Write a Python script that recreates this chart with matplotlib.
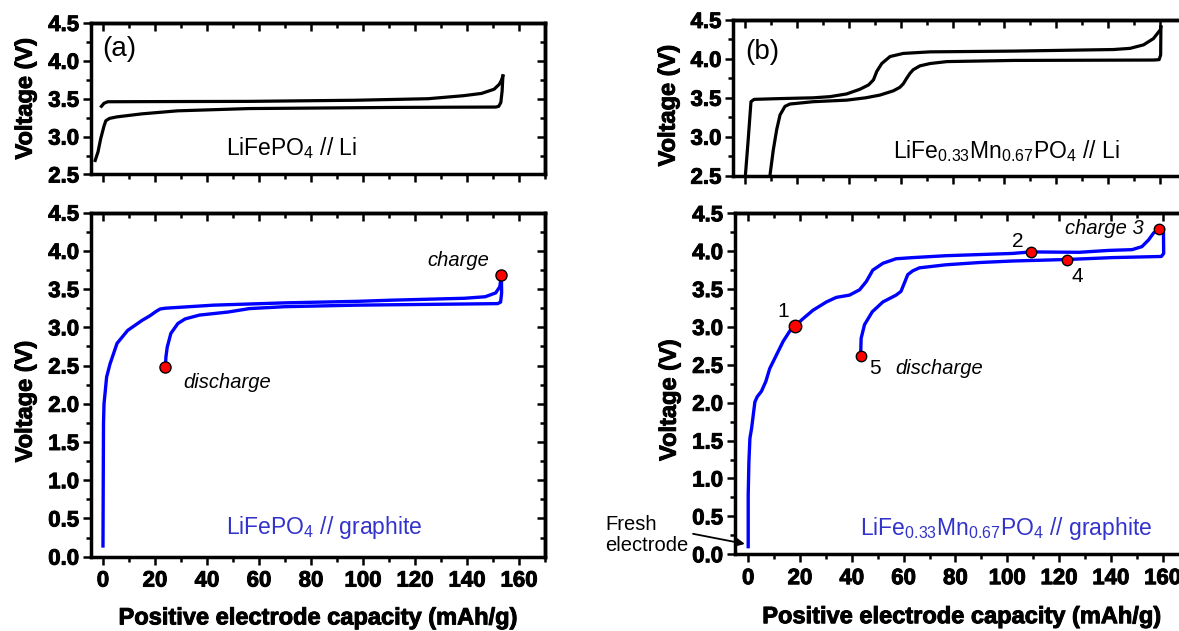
import numpy as np
import matplotlib.pyplot as plt
import matplotlib.patheffects as pe
from matplotlib.ticker import MultipleLocator

plt.rcParams['font.family'] = ['Liberation Sans', 'DejaVu Sans']
plt.rcParams['font.weight'] = 'bold'
plt.rcParams['mathtext.fontset'] = 'custom'
plt.rcParams['mathtext.rm'] = 'Liberation Sans'
plt.rcParams['mathtext.it'] = 'Liberation Sans:italic'
plt.rcParams['mathtext.bf'] = 'Liberation Sans:bold'

# (a) LiFePO4 // Li  (black)
lfp_li_charge_x = [-0.5, 0.5, 1.9, 20, 56.2, 97.5, 125, 138.7, 145.6, 150.4, 152.4, 153.2, 153.8]
lfp_li_charge_v = [3.40, 3.44, 3.46, 3.462, 3.465, 3.48, 3.50, 3.54, 3.57, 3.625, 3.69, 3.74, 3.80]
lfp_li_dis_x = [153.8, 153.5, 153.0, 152.2, 151.1, 111.2, 56.2, 28.7, 15.0, 5.4, 2.6, 1.2, 0.5, -0.8, -1.8, -2.9]
lfp_li_dis_v = [3.80, 3.60, 3.45, 3.40, 3.39, 3.385, 3.37, 3.34, 3.30, 3.26, 3.24, 3.21, 3.14, 2.97, 2.80, 2.685]

# (a) LiFePO4 // graphite  (blue)
lfp_gr_charge_x = [0, 0.1, 0.2, 0.4, 1.4, 2.7, 5.4, 9.5, 15.0, 18.0, 20.5, 22.0, 24.0, 42.5, 70, 98, 111, 139, 147, 151, 152.6, 153.2]
lfp_gr_charge_v = [0.14, 1.0, 1.74, 2.0, 2.35, 2.52, 2.79, 2.96, 3.09, 3.15, 3.21, 3.24, 3.25, 3.29, 3.32, 3.34, 3.355, 3.38, 3.40, 3.45, 3.53, 3.685]
lfp_gr_dis_x = [153.2, 153.3, 152.9, 151.8, 139, 125, 97.5, 70, 56.3, 48.1, 37.1, 31.6, 28.8, 26.1, 24.7, 24.2, 24.0]
lfp_gr_dis_v = [3.685, 3.45, 3.33, 3.31, 3.305, 3.30, 3.29, 3.27, 3.245, 3.20, 3.16, 3.11, 3.05, 2.92, 2.74, 2.61, 2.48]
lfp_gr_pts_x = [153.2, 24.0]
lfp_gr_pts_v = [3.685, 2.48]

# (b) LiFe0.33Mn0.67PO4 // Li  (black)
lfmp_li_charge_x = [-0.1, 1.2, 2.3, 3.5, 13.5, 26.3, 32.8, 39.2, 44.3, 47.6, 49.5, 50.8, 52.7, 55.9, 61.0, 71.3, 103.5, 142, 148.4, 153.6, 157.4, 160.0, 160.3]
lfmp_li_charge_v = [2.4, 2.95, 3.45, 3.48, 3.49, 3.50, 3.515, 3.55, 3.61, 3.665, 3.73, 3.84, 3.94, 4.03, 4.07, 4.09, 4.10, 4.12, 4.135, 4.18, 4.26, 4.37, 4.41]
lfmp_li_dis_x = [160.3, 160.2, 159.6, 157.4, 103.5, 77.8, 71.3, 67.4, 64.8, 63.6, 62.3, 61.0, 59.7, 57.2, 52.0, 46.5, 39.2, 26.3, 17.3, 15.4, 13.5, 12.2, 10.9, 9.6, 9.3]
lfmp_li_dis_v = [4.41, 4.05, 3.99, 3.985, 3.98, 3.965, 3.94, 3.91, 3.86, 3.815, 3.75, 3.68, 3.635, 3.59, 3.535, 3.50, 3.47, 3.45, 3.42, 3.39, 3.28, 3.09, 2.83, 2.50, 2.4]

# (b) LiFe0.33Mn0.67PO4 // graphite  (blue)
lfmp_gr_charge_x = [0, 0, 0.27, 0.66, 1.3, 2.58, 3.5, 5.1, 6.8, 8.3, 10.9, 13.5, 16.7, 18.0, 21.2, 25.0, 30.2, 34.0, 39.1, 43.0,
                    45.6, 48.1, 52.0, 57.1, 63.5, 76.3, 102.0, 109.0, 127.7, 139.2, 148.2, 152.0, 154.6, 156.5, 158.6, 160.3]
lfmp_gr_charge_v = [0.10, 0.78, 1.22, 1.53, 1.66, 2.01, 2.08, 2.15, 2.28, 2.45, 2.63, 2.81, 2.98, 3.01, 3.11, 3.22, 3.33, 3.39, 3.42, 3.49,
                    3.60, 3.75, 3.84, 3.90, 3.915, 3.94, 3.97, 3.99, 3.985, 4.01, 4.02, 4.06, 4.15, 4.24, 4.29, 4.30]
lfmp_gr_dis_x = [160.3, 160.4, 159.5, 140.5, 122.9, 102.0, 89.2, 76.3, 66.1, 63.5, 61.6, 60.3, 59.0, 57.1, 52.0, 47.9, 44.9, 43.6, 43.4]
lfmp_gr_dis_v = [4.30, 3.97, 3.93, 3.915, 3.89, 3.87, 3.85, 3.82, 3.78, 3.74, 3.69, 3.58, 3.47, 3.42, 3.33, 3.20, 3.03, 2.85, 2.62]
lfmp_gr_pts_x = [18.0, 109.0, 158.6, 122.9, 43.4]
lfmp_gr_pts_v = [3.01, 3.99, 4.29, 3.89, 2.62]

BLUE = '#0000ff'
TXTBLUE = '#3333cc'
HEAVY = [pe.withStroke(linewidth=0.7, foreground='black')]

fig = plt.figure(figsize=(11.79, 6.31), dpi=100)


def frame(ax, xlim, ylim, xlabels, right_ticks=True):
    ax.set_xlim(*xlim)
    ax.set_ylim(*ylim)
    for s in ax.spines.values():
        s.set_linewidth(2.5)
    ax.xaxis.set_major_locator(MultipleLocator(20))
    ax.xaxis.set_minor_locator(MultipleLocator(10))
    ax.yaxis.set_major_locator(MultipleLocator(0.5))
    ax.yaxis.set_minor_locator(MultipleLocator(0.25))
    ax.yaxis.set_major_formatter('{x:.1f}')
    ax.tick_params(which='major', direction='out', length=6, width=1.8, labelsize=16, pad=2.5)
    ax.tick_params(which='minor', direction='out', length=3.5, width=1.8)
    ax.tick_params(axis='x', labelbottom=xlabels, pad=4)
    for lab in ax.get_xticklabels() + ax.get_yticklabels():
        lab.set_path_effects(HEAVY)
    top = ax.secondary_xaxis('top')
    top.xaxis.set_major_locator(MultipleLocator(20))
    top.xaxis.set_minor_locator(MultipleLocator(10))
    top.tick_params(which='major', direction='in', length=6, width=1.8, labeltop=False)
    top.tick_params(which='minor', direction='in', length=3.5, width=1.8)
    top.spines['top'].set_linewidth(2.5)
    if right_ticks:
        right = ax.secondary_yaxis('right')
        right.yaxis.set_major_locator(MultipleLocator(0.5))
        right.yaxis.set_minor_locator(MultipleLocator(0.25))
        right.tick_params(which='major', direction='in', length=6, width=1.8, labelright=False)
        right.tick_params(which='minor', direction='in', length=3.5, width=1.8)
        right.spines['right'].set_linewidth(2.5)


def ylab(ax, x, y):
    ax.set_ylabel('Voltage (V)', fontsize=17, fontweight='bold', va='center', path_effects=HEAVY)
    ax.yaxis.set_label_coords(x, y)


def xlab(ax, y):
    ax.set_xlabel('Positive electrode capacity (mAh/g)', fontsize=17, fontweight='bold', va='center',
                  path_effects=HEAVY)
    ax.xaxis.set_label_coords(0.5, y)


# ---- (a) top
ax1 = fig.add_axes([0.0772, 0.7235, 0.3851, 0.2401])
frame(ax1, (-4.5, 170), (2.5, 4.5), False)
ax1.plot(lfp_li_charge_x, lfp_li_charge_v, color='black', lw=2.3)
ax1.plot(lfp_li_dis_x, lfp_li_dis_v, color='black', lw=2.3)
ax1.text(0, 4.15, '(a)', fontsize=20, fontweight='normal', ha='left', va='center')
ax1.text(47.4, 2.75, r'LiFePO$_\mathregular{4}$ // Li', fontsize=16.5, fontweight='normal',
         ha='left', va='baseline')
ylab(ax1, -0.145, 0.5)

# ---- (a) bottom
ax2 = fig.add_axes([0.0772, 0.1178, 0.3851, 0.5452])
frame(ax2, (-4.6, 170), (0, 4.5), True)
ax2.plot(lfp_gr_charge_x, lfp_gr_charge_v, color=BLUE, lw=2.4)
ax2.plot(lfp_gr_dis_x, lfp_gr_dis_v, color=BLUE, lw=2.4)
ax2.plot(lfp_gr_pts_x, lfp_gr_pts_v, 'o', color='red', mec='black', mew=1, ms=8, zorder=5)
ax2.text(148.7, 3.88, 'charge', fontsize=14.5, fontstyle='italic', fontweight='normal', ha='right', va='center')
ax2.text(30.9, 2.28, 'discharge', fontsize=14.5, fontstyle='italic', fontweight='normal', ha='left', va='center')
ax2.text(47.4, 0.29, r'LiFePO$_\mathregular{4}$ // graphite', fontsize=16.5, fontweight='normal',
         color=TXTBLUE, ha='left', va='baseline')
ylab(ax2, -0.145, 0.451)
xlab(ax2, -0.178)

# ---- (b) top
ax3 = fig.add_axes([0.622, 0.7216, 0.384, 0.2468])
frame(ax3, (-4.5, 170), (2.5, 4.5), False, right_ticks=False)
ax3.plot(lfmp_li_charge_x, lfmp_li_charge_v, color='black', lw=2.3)
ax3.plot(lfmp_li_dis_x, lfmp_li_dis_v, color='black', lw=2.3)
ax3.text(0, 4.09, '(b)', fontsize=20, fontweight='normal', ha='left', va='center')
ax3.text(57.2, 2.72, r'LiFe$_\mathregular{0.33}$Mn$_\mathregular{0.67}$PO$_\mathregular{4}$ // Li',
         fontsize=16.5, fontweight='normal', ha='left', va='baseline')
ylab(ax3, -0.144, 0.45)

# ---- (b) bottom
ax4 = fig.add_axes([0.6234, 0.1216, 0.3847, 0.5404])
frame(ax4, (-5.1, 170), (0, 4.5), True, right_ticks=False)
ax4.plot(lfmp_gr_charge_x, lfmp_gr_charge_v, color=BLUE, lw=2.4)
ax4.plot(lfmp_gr_dis_x, lfmp_gr_dis_v, color=BLUE, lw=2.4)
sizes = [9, 7.5, 7.5, 7.5, 7.5]
for px, pv, s in zip(lfmp_gr_pts_x, lfmp_gr_pts_v, sizes):
    ax4.plot(px, pv, 'o', color='red', mec='black', mew=1, ms=s, zorder=5)
ax4.text(13.7, 3.20, '1', fontsize=15, fontweight='normal', ha='center', va='center')
ax4.text(103.9, 4.13, '2', fontsize=15, fontweight='normal', ha='center', va='center')
ax4.text(152.7, 4.30, 'charge 3', fontsize=14.5, fontstyle='italic', fontweight='normal', ha='right', va='center')
ax4.text(127.0, 3.66, '4', fontsize=15, fontweight='normal', ha='center', va='center')
ax4.text(48.8, 2.45, '5', fontsize=15, fontweight='normal', ha='center', va='center')
ax4.text(56.9, 2.45, 'discharge', fontsize=14.5, fontstyle='italic', fontweight='normal', ha='left', va='center')
ax4.text(43.0, 0.26, r'LiFe$_\mathregular{0.33}$Mn$_\mathregular{0.67}$PO$_\mathregular{4}$ // graphite',
         fontsize=16.5, fontweight='normal', color=TXTBLUE, ha='left', va='baseline')
ax4.text(-55.2, 0.255, 'Fresh\nelectrode', fontsize=14.5, fontweight='normal', ha='left', va='center',
         linespacing=1.1, clip_on=False)
ax4.annotate('', xy=(-1.3, 0.137), xytext=(-21.3, 0.27), annotation_clip=False,
             arrowprops=dict(arrowstyle='-|>', color='black', lw=1.3, mutation_scale=12, shrinkA=0, shrinkB=0))
ylab(ax4, -0.145, 0.452)
xlab(ax4, -0.183)

fig.savefig('out.png', dpi=100)
